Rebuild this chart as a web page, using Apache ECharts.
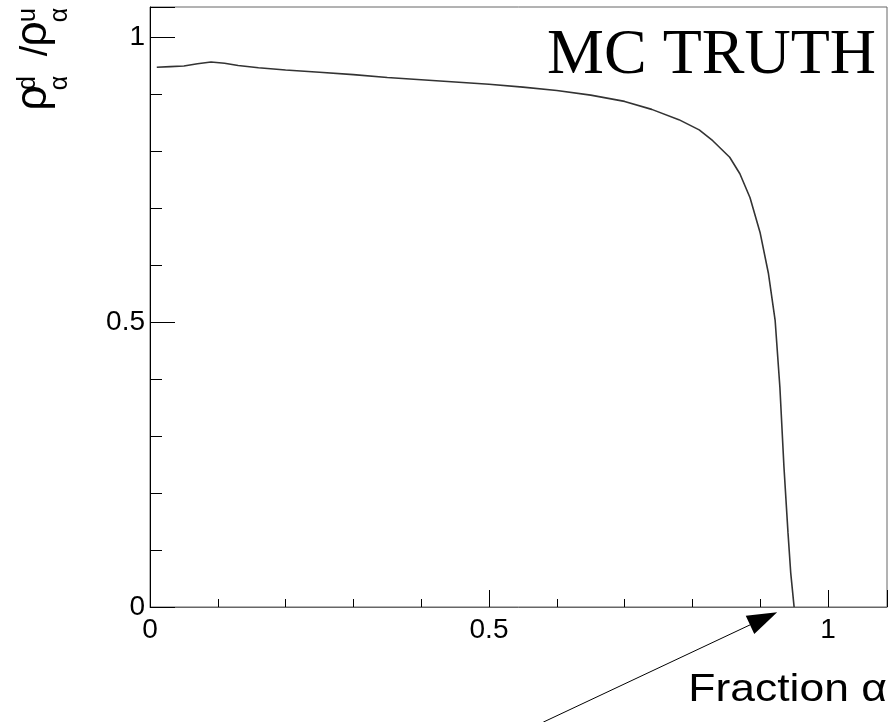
<!DOCTYPE html>
<html>
<head>
<meta charset="utf-8">
<script src="https://cdn.jsdelivr.net/npm/echarts@6/dist/echarts.min.js"></script>
<style>
html,body{margin:0;padding:0;background:#fff;}
#chart{width:895px;height:722px;}
</style>
</head>
<body>
<div id="chart"></div>
<script>
// ---- data ----
const fraction = [0.010, 0.030, 0.050, 0.070, 0.090, 0.110, 0.130, 0.160, 0.200, 0.250,
  0.300, 0.350, 0.400, 0.450, 0.500, 0.550, 0.600, 0.650, 0.700, 0.740,
  0.780, 0.810, 0.830, 0.855, 0.870, 0.885, 0.900, 0.912, 0.922, 0.929,
  0.935, 0.941, 0.945, 0.950];
const ratio = [0.947, 0.948, 0.949, 0.953, 0.956, 0.954, 0.950, 0.946, 0.942, 0.938,
  0.934, 0.929, 0.925, 0.921, 0.917, 0.912, 0.906, 0.898, 0.887, 0.873,
  0.855, 0.837, 0.818, 0.789, 0.760, 0.718, 0.656, 0.586, 0.503, 0.386,
  0.246, 0.130, 0.060, 0.000];
const xRange = [0, 1.087];
const yRange = [0, 1.0526];
const majorStep = 0.5;
const titleText = 'MC TRUTH';
const xTitle = 'Fraction \u03b1';
const arrowTail = [0.580, -0.202];
const arrowTip = [0.925, -0.009];

const seriesData = fraction.map((x, i) => [x, ratio[i]]);

const chart = echarts.init(document.getElementById('chart'), null, {renderer: 'canvas'});
const sans = 'Liberation Sans';

function axisCommon(range, lineColor, majorLen, minorLen, labelMargin) {
  return {
    type: 'value',
    min: range[0],
    max: range[1],
    interval: majorStep,
    axisLine: {show: true, onZero: false, lineStyle: {color: lineColor, width: 1}},
    axisTick: {show: true, inside: true, length: majorLen, lineStyle: {color: '#000', width: 1}},
    minorTick: {show: true, splitNumber: 5, length: minorLen, lineStyle: {color: '#000', width: 1}},
    splitLine: {show: false},
    minorSplitLine: {show: false},
    axisLabel: {
      show: true, fontFamily: sans, fontSize: 28, color: '#000', margin: labelMargin,
      showMaxLabel: false,
      formatter: v => String(v)
    }
  };
}

const option = {
  animation: false,
  backgroundColor: '#fff',
  grid: {left: 150, top: 7, right: 8, bottom: 115, show: true, borderColor: '#666', borderWidth: 1, containLabel: false},
  xAxis: axisCommon(xRange, '#666', 17, 8, 9),
  yAxis: axisCommon(yRange, '#000', 25, 12, 5),
  series: [{
    type: 'line',
    data: seriesData,
    showSymbol: false,
    smooth: false,
    lineStyle: {color: '#333', width: 1.6},
    clip: true
  }]
};
chart.setOption(option);

function drawAnnotations() {
  const tail = chart.convertToPixel({gridIndex: 0}, arrowTail);
  const tip = chart.convertToPixel({gridIndex: 0}, arrowTip);
  const dx = tip[0] - tail[0], dy = tip[1] - tail[1];
  const L = Math.hypot(dx, dy);
  const ux = dx / L, uy = dy / L;
  const headLen = 30, headHalf = 10;
  const bx = tip[0] - ux * headLen, by = tip[1] - uy * headLen;
  const px = -uy, py = ux;
  const rotUp = Math.PI / 2;
  chart.setOption({
    graphic: [
      {type: 'line', shape: {x1: tail[0], y1: tail[1], x2: bx, y2: by}, style: {stroke: '#000', lineWidth: 1}, silent: true},
      {type: 'polygon', shape: {points: [[tip[0], tip[1]], [bx + px * headHalf, by + py * headHalf], [bx - px * headHalf, by - py * headHalf]]}, style: {fill: '#000'}, silent: true},
      {type: 'text', x: 876, y: 56, style: {text: titleText, font: '64px "Liberation Serif"', fill: '#000', align: 'right', verticalAlign: 'middle'}, silent: true},
      {type: 'text', x: 887, y: 690, scaleX: 1.14, style: {text: xTitle, font: '39px "Liberation Sans"', fill: '#000', align: 'right', verticalAlign: 'middle'}, silent: true},
      // y-axis title: rho^d_alpha / rho^u_alpha, rotated
      {type: 'text', x: 34, y: 98, rotation: rotUp, style: {text: '\u03c1', font: '45px "Liberation Sans"', fill: '#000', align: 'center', verticalAlign: 'middle'}, silent: true},
      {type: 'text', x: 28, y: 83, rotation: rotUp, style: {text: 'd', font: '25px "Liberation Sans"', fill: '#000', align: 'center', verticalAlign: 'middle'}, silent: true},
      {type: 'text', x: 60, y: 83, rotation: rotUp, style: {text: '\u03b1', font: '25px "Liberation Sans"', fill: '#000', align: 'center', verticalAlign: 'middle'}, silent: true},
      {type: 'text', x: 37, y: 51, rotation: rotUp, style: {text: '/', font: '38px "Liberation Sans"', fill: '#000', align: 'center', verticalAlign: 'middle'}, silent: true},
      {type: 'text', x: 34, y: 34, rotation: rotUp, style: {text: '\u03c1', font: '45px "Liberation Sans"', fill: '#000', align: 'center', verticalAlign: 'middle'}, silent: true},
      {type: 'text', x: 28, y: 15, rotation: rotUp, style: {text: 'u', font: '25px "Liberation Sans"', fill: '#000', align: 'center', verticalAlign: 'middle'}, silent: true},
      {type: 'text', x: 60, y: 15, rotation: rotUp, style: {text: '\u03b1', font: '25px "Liberation Sans"', fill: '#000', align: 'center', verticalAlign: 'middle'}, silent: true}
    ]
  });
}
drawAnnotations();
</script>
</body>
</html>
